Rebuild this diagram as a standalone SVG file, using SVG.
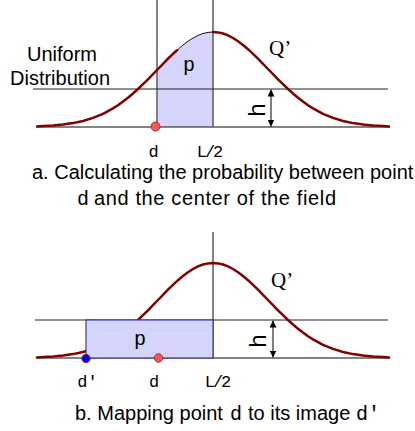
<svg xmlns="http://www.w3.org/2000/svg" width="415" height="431" viewBox="0 0 415 431">
<style>
.axis{stroke:#5a5a5a;stroke-width:1.5;fill:none}
.hline{stroke:#222;stroke-width:1;fill:none}
.curve{stroke:#800000;stroke-width:2.5;fill:none;stroke-linejoin:round;stroke-linecap:round}
.shade{fill:#d5d5fb}
.sans{font-family:"Liberation Sans",Arial,sans-serif;fill:#000}
.mono{font-family:"Liberation Mono","Courier New",monospace;fill:#000}
.serif{font-family:"Liberation Serif","Times New Roman",serif;fill:#000}
.dim{stroke:#000;stroke-width:1;marker-start:url(#ah);marker-end:url(#ah)}
</style>
<defs>
<marker id="ah" viewBox="0 0 10 10" refX="10" refY="5" markerWidth="7" markerHeight="7" markerUnits="userSpaceOnUse" orient="auto-start-reverse">
<path d="M0,0 L10,5 L0,10 Z" fill="#000"/>
</marker>
</defs>

<!-- Panel a -->
<g id="panel-a">
  <g id="a-shaded">
    <path class="shade" d="M157,127 L157,70 L163,63.8 L173,53.8 L177,50.3 L183,45 L188,41.2 L193,38 L198,35.4 L203,33.5 L208,32.4 L213,32 L213,127 Z"/>
    <path d="M157,70 L163,63.8 L173,53.8 L177,50.3 L183,45 L188,41.2 L193,38 L198,35.4 L203,33.5 L208,32.4 L213,32" fill="none" stroke="#111" stroke-width="1"/>
  </g>
  <g id="a-axes">
    <line class="axis" x1="157" y1="0" x2="157" y2="127"/>
    <line class="axis" x1="213" y1="0" x2="213" y2="127"/>
    <line class="hline" x1="33" y1="89" x2="388" y2="89"/>
    <line class="axis" x1="37" y1="127" x2="390" y2="127"/>
  </g>
  <g id="a-curve">
    <path class="curve" d="M37,126.4 L43,126.1 L53,125.5 L63,124.6 L73,123.1 L83,121 L93,117.9 L103,113.8 L113,108.4 L118,105.2 L123,101.6 L128,97.7 L133,93.5 L138,89 L143,84.2 L148,79.3 L153,74.2 L158,69 L163,63.8 L168,58.7 L173,53.8 L177,50.3"/>
    <path class="curve" d="M213,32 L218,32.4 L223,33.5 L228,35.4 L233,38 L238,41.2 L243,45 L248,49.2 L253,53.8 L258,58.7 L263,63.8 L268,69 L273,74.2 L278,79.3 L283,84.2 L288,89 L293,93.5 L298,97.7 L303,101.6 L308,105.2 L313,108.4 L323,113.8 L333,117.9 L343,121 L353,123.1 L363,124.6 L373,125.5 L383,126.1 L389,126.4"/>
  </g>
  <g id="a-dot"><circle cx="155.5" cy="126.5" r="4.5" fill="#f05a5a" stroke="#c02020" stroke-width="1"/></g>
  <g id="a-h">
    <line class="dim" x1="271" y1="89.5" x2="271" y2="126.5"/>
    <text class="sans" font-size="24" text-anchor="middle" transform="translate(265,110) rotate(-90)">h</text>
  </g>
  <text class="mono" x="189" y="71" font-size="20" text-anchor="middle">p</text>
  <text class="serif" x="269" y="55" font-size="21">Q’</text>
  <text class="sans" x="27" y="61" font-size="20">Uniform</text>
  <text class="sans" x="10" y="85" font-size="20">Distribution</text>
  <text class="mono" x="153.5" y="157" font-size="17" text-anchor="middle">d</text>
  <text class="mono" x="209" y="157" font-size="17" text-anchor="middle" letter-spacing="-2">L/2</text>
  <text class="sans" x="32" y="179" font-size="20">a. Calculating the probability between point</text>
  <text class="mono" x="77" y="205" font-size="20">d</text>
  <text class="sans" x="94" y="205" font-size="20" textLength="242" lengthAdjust="spacing">and the center of the field</text>
</g>

<!-- Panel b -->
<g id="panel-b">
  <g id="b-axes">
    <line class="axis" x1="213" y1="232" x2="213" y2="358"/>
    <line class="hline" x1="35" y1="320" x2="388" y2="320"/>
    <line class="axis" x1="37" y1="358" x2="390" y2="358"/>
  </g>
  <g id="b-curve">
    <path class="curve" d="M37,357.4 L43,357.1 L53,356.5 L63,355.6 L73,354.1 L83,352 L93,348.9 L103,344.8 L113,339.4 L118,336.2 L123,332.6 L128,328.7 L133,324.5 L138,320 L143,315.2 L148,310.3 L153,305.2 L158,300 L163,294.8 L168,289.7 L173,284.8 L178,280.2 L183,276 L188,272.2 L193,269 L198,266.4 L203,264.5 L208,263.4 L213,263 L218,263.4 L223,264.5 L228,266.4 L233,269 L238,272.2 L243,276 L248,280.2 L253,284.8 L258,289.7 L263,294.8 L268,300 L273,305.2 L278,310.3 L283,315.2 L288,320 L293,324.5 L298,328.7 L303,332.6 L308,336.2 L313,339.4 L323,344.8 L333,348.9 L343,352 L353,354.1 L363,355.6 L373,356.5 L383,357.1 L389,357.4"/>
  </g>
  <g id="b-rect"><rect x="86" y="320" width="127" height="38" fill="#d5d5fb" stroke="#3a3aa8" stroke-width="1.2"/></g>
  <g id="b-dots">
    <circle cx="86" cy="358.5" r="4.2" fill="#0000f0" stroke="#a02020" stroke-width="1"/>
    <circle cx="158.5" cy="358" r="4.2" fill="#f05a5a" stroke="#c02020" stroke-width="1"/>
  </g>
  <g id="b-h">
    <line class="dim" x1="273" y1="320.5" x2="273" y2="357.5"/>
    <text class="sans" font-size="24" text-anchor="middle" transform="translate(266,341) rotate(-90)">h</text>
  </g>
  <text class="mono" x="140" y="345" font-size="20" text-anchor="middle">p</text>
  <text class="serif" x="271" y="287" font-size="21">Q’</text>
  <text class="mono" x="87.5" y="387" font-size="17" text-anchor="middle">d'</text>
  <text class="mono" x="154" y="387" font-size="17" text-anchor="middle">d</text>
  <text class="mono" x="217" y="387" font-size="17" text-anchor="middle" letter-spacing="-2">L/2</text>
  <text class="sans" x="75" y="420" font-size="20">b. Mapping point</text>
  <text class="mono" x="230" y="420" font-size="20">d</text>
  <text class="sans" x="248" y="420" font-size="20">to its image</text>
  <text class="mono" x="356" y="420" font-size="20">d′</text>
</g>
</svg>
